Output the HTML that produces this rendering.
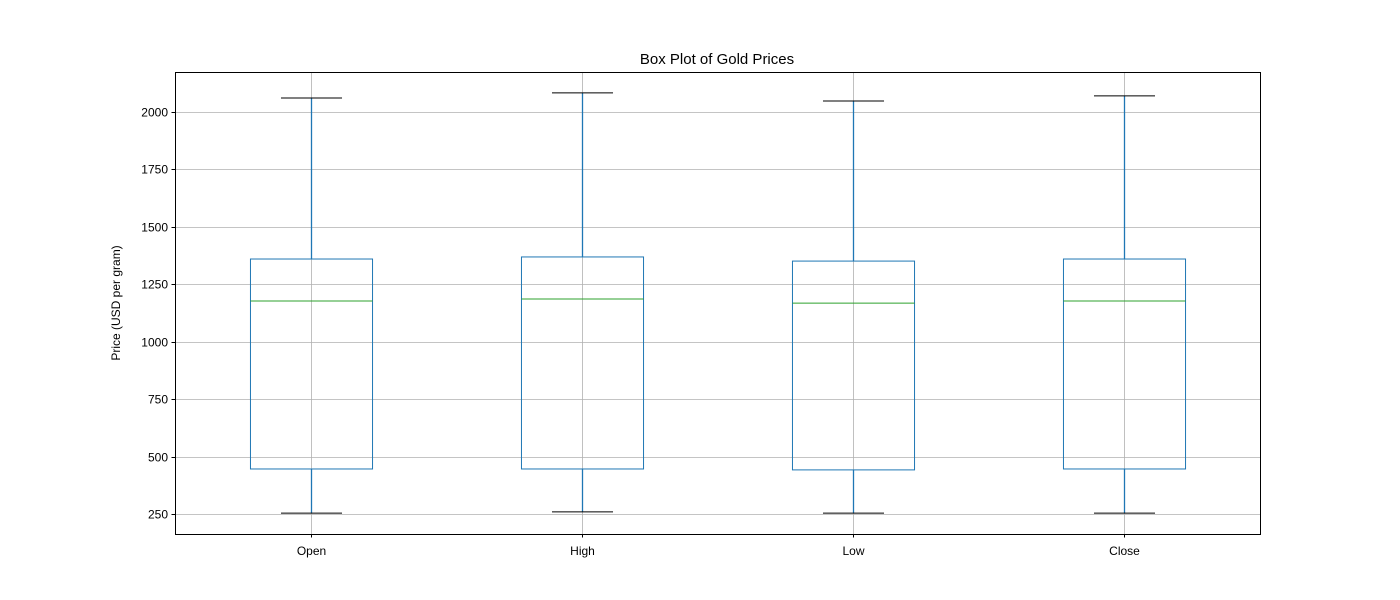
<!DOCTYPE html>
<html><head><meta charset="utf-8"><style>body{margin:0;background:#fff}svg{display:block}text{font-family:"Liberation Sans","DejaVu Sans",sans-serif}</style></head>
<body>
<svg id="chart" width="1400" height="600">
<rect width="1400" height="600" fill="#fff"/>
<text x="717" y="64" font-size="15" text-anchor="middle">Box Plot of Gold Prices</text>
<text transform="translate(120,303) rotate(-90)" font-size="12" text-anchor="middle">Price (USD per gram)</text>
<g id="grid"></g><g id="boxes"></g><g id="ticks"></g>
<rect x="175.5" y="72.5" width="1085" height="462" fill="none" stroke="#000" stroke-width="1"/>
</svg>
<script>
const categories = ["Open","High","Low","Close"];
const whiskerHigh = [2061,2083,2048,2070];
const q3 = [1360,1369,1351,1360];
const medians = [1177,1186,1168,1177];
const q1 = [446,446,442,446];
const whiskerLow = [254,259,254,254];
const yTicks = [250,500,750,1000,1250,1500,1750,2000];
const NS="http://www.w3.org/2000/svg";
const L=175,R=1260,T=72,B=534;
const y=v=>112+(2000-v)*(402/1750);
const x=i=>L+(i+0.5)*(R-L)/categories.length;
const bw=0.45*(R-L)/categories.length, cap=bw/4;
function mk(p,tag,a){const e=document.createElementNS(NS,tag);for(const k in a)e.setAttribute(k,a[k]);p.appendChild(e);return e;}
const grid=document.getElementById('grid'),boxes=document.getElementById('boxes'),ticks=document.getElementById('ticks');
yTicks.forEach(t=>{const yy=Math.round(y(t))+0.5;
 let g=mk(grid,'line',{x1:L,x2:R,y1:yy,y2:yy,stroke:'#b0b0b0','stroke-width':0.8});
 
 
 mk(ticks,'line',{x1:L-3.5,x2:L,y1:yy,y2:yy,stroke:'#000'});
 let tx=mk(ticks,'text',{x:L-7,y:yy+4,'font-size':12,'text-anchor':'end'});tx.textContent=t;
 
 
});
categories.forEach((c,i)=>{const cx=Math.round(x(i))+0.5;
 let g=mk(grid,'line',{x1:cx,x2:cx,y1:T,y2:B,stroke:'#b0b0b0','stroke-width':0.8});
 
 
 const grp=mk(boxes,'g',{});
 
 
 const blue='#1f77b4';
 mk(grp,'line',{x1:cx,x2:cx,y1:y(q3[i]),y2:y(whiskerHigh[i]),stroke:blue,'stroke-width':1.3});
 mk(grp,'line',{x1:cx,x2:cx,y1:y(q1[i]),y2:y(whiskerLow[i]),stroke:blue,'stroke-width':1.3});
 mk(grp,'line',{x1:cx-cap,x2:cx+cap,y1:y(whiskerHigh[i]),y2:y(whiskerHigh[i]),stroke:'#000'});
 mk(grp,'line',{x1:cx-cap,x2:cx+cap,y1:y(whiskerLow[i]),y2:y(whiskerLow[i]),stroke:'#000'});
 mk(grp,'rect',{x:cx-bw/2,y:y(q3[i]),width:bw,height:y(q1[i])-y(q3[i]),fill:'none',stroke:blue});
 mk(grp,'line',{x1:cx-bw/2,x2:cx+bw/2,y1:y(medians[i]),y2:y(medians[i]),stroke:'#2ca02c'});
 mk(ticks,'line',{x1:cx,x2:cx,y1:B,y2:B+3.5,stroke:'#000'});
 let tx=mk(ticks,'text',{x:cx,y:B+21,'font-size':12,'text-anchor':'middle'});tx.textContent=c;
 
 
});
</script>
</body></html>
